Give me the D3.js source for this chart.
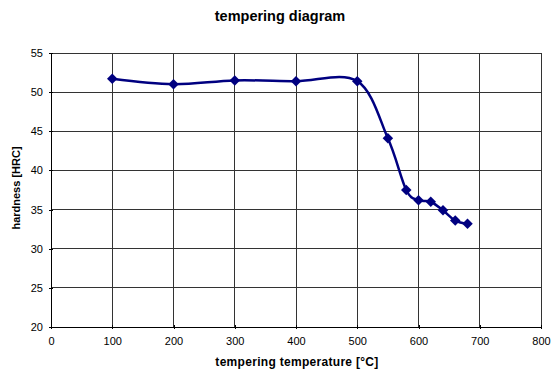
<!DOCTYPE html>
<html><head><meta charset="utf-8">
<script src="https://cdn.jsdelivr.net/npm/d3@7"></script>
<style>body{margin:0;background:#fff}svg{display:block}text{font-family:"Liberation Sans",Arial,sans-serif}</style>
</head><body>
<svg id="c" width="558" height="375"></svg>
<script>
const temperatures = [100, 200, 300, 400, 500, 550, 580, 600, 620, 640, 660, 680];
const hardness = [51.7, 51.0, 51.5, 51.4, 51.4, 44.1, 37.5, 36.2, 36.0, 34.9, 33.6, 33.2];
const xTicks = [0, 100, 200, 300, 400, 500, 600, 700, 800];
const yTicks = [20, 25, 30, 35, 40, 45, 50, 55];
const title = "tempering diagram";
const xLabel = "tempering temperature [°C]";
const yLabel = "hardness [HRC]";

const svg = d3.select("#c");
const L = 51, R = 541, T = 53, B = 327;
const x = d3.scaleLinear().domain([0, 800]).range([L, R]);
const y = d3.scaleLinear().domain([20, 55]).range([B, T]);

// gridlines
svg.append("g").selectAll("line").data(xTicks.slice(1)).join("line")
  .attr("x1", d => x(d)).attr("x2", d => x(d)).attr("y1", T).attr("y2", B)
  .attr("stroke", "#333").attr("stroke-width", 1).attr("shape-rendering", "crispEdges");
svg.append("g").selectAll("line").data(yTicks.slice(1)).join("line")
  .attr("x1", L).attr("x2", R).attr("y1", d => y(d)).attr("y2", d => y(d))
  .attr("stroke", "#333").attr("stroke-width", 1).attr("shape-rendering", "crispEdges");

const xa = svg.append("g").attr("transform", `translate(0,${B})`)
  .call(d3.axisBottom(x).tickValues(xTicks).tickSize(4).tickSizeOuter(0).tickPadding(6));
const ya = svg.append("g").attr("transform", `translate(${L},0)`)
  .call(d3.axisLeft(y).tickValues(yTicks).tickSize(4).tickSizeOuter(0).tickPadding(4));
[xa, ya].forEach(a => {
  a.selectAll("path,line").attr("stroke", "#000").attr("shape-rendering", "crispEdges");
  a.selectAll("text").attr("font-size", 11).attr("fill", "#000");
});
xa.selectAll(".tick line").attr("transform", "translate(0,-2)");
ya.selectAll(".tick line").attr("transform", "translate(2,0)");

const pts = temperatures.map((t, i) => [t, hardness[i]]);
svg.append("path").datum(pts)
  .attr("d", d3.line().x(d => x(d[0])).y(d => y(d[1])).curve(d3.curveCardinal.tension(0)))
  .attr("fill", "none").attr("stroke", "#000080").attr("stroke-width", 2.5);

svg.append("g").selectAll("path").data(pts).join("path")
  .attr("d", d3.symbol(d3.symbolDiamond2, 70)())
  .attr("transform", d => `translate(${x(d[0])},${y(d[1])})`)
  .attr("fill", "#000080");

svg.append("text").attr("x", 280).attr("y", 21).attr("text-anchor", "middle")
  .attr("font-size", 14.5).attr("font-weight", "bold").text(title);
svg.append("text").attr("x", 297).attr("y", 366).attr("text-anchor", "middle")
  .attr("font-size", 12).attr("font-weight", "bold").attr("letter-spacing", 0.3).text(xLabel);
svg.append("text").attr("transform", "translate(20,188) rotate(-90)").attr("text-anchor", "middle")
  .attr("font-size", 11).attr("font-weight", "bold").text(yLabel);
</script>
</body></html>
